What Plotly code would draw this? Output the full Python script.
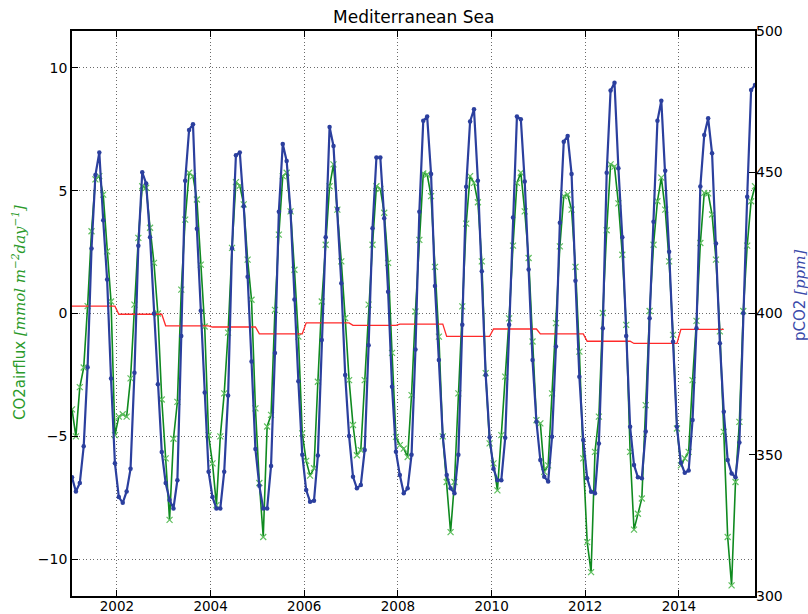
import plotly.graph_objects as go

# ---- data (monthly, Jan 2001 .. Aug 2015) ----
years = list(range(2001, 2016))

co2_airflux = {
    2001: [-3.9, -5.0, -3.0, -2.2, 0.3, 3.35, 5.46, 5.59, 4.84, 2.53, 0.49, -4.95],
    2002: [-4.2, -4.1, -4.2, -2.64, 0.36, 3.08, 5.18, 5.12, 3.49, 2.06, 0.0, -3.5],
    2003: [-5.9, -8.4, -5.1, -3.6, 0.97, 3.82, 5.73, 5.59, 4.64, 1.99, -0.53, -4.95],
    2004: [-6.1, -7.8, -5.0, -3.25, -0.78, 2.67, 5.35, 5.2, 4.44, 2.19, 0.56, -3.86],
    2005: [-6.9, -9.1, -4.6, -4.13, 0.15, 3.21, 5.59, 5.73, 4.16, 1.78, -0.94, -4.88],
    2006: [-6.0, -6.6, -6.3, -2.78, 0.49, 2.8, 5.18, 6.07, 4.23, 2.12, -0.19, -2.71],
    2007: [-4.54, -5.77, -5.56, -2.71, 0.36, 2.8, 5.18, 5.07, 4.1, 2.06, -1.6, -5.02],
    2008: [-5.36, -5.5, -5.84, -3.32, 0.08, 3.0, 5.7, 5.66, 4.78, 1.9, -0.94, -5.0],
    2009: [-6.86, -8.9, -6.86, -3.25, 0.29, 3.66, 5.59, 5.32, 4.53, 2.12, -2.43, -5.29],
    2010: [-6.1, -7.2, -4.95, -2.57, -0.2, 2.76, 5.32, 5.73, 4.16, 2.26, -1.14, -4.34],
    2011: [-4.47, -6.45, -6.18, -3.25, -0.39, 2.73, 4.78, 4.84, 4.23, 1.9, -1.55, -5.9],
    2012: [-9.31, -10.53, -5.63, -4.2, 0.02, 3.39, 6.07, 5.98, 4.48, 2.39, -0.46, -5.63],
    2013: [-8.8, -8.15, -7.53, -3.73, 0.1, 2.8, 4.57, 5.53, 4.23, 2.12, -0.87, -4.68],
    2014: [-6.18, -5.9, -5.63, -2.71, -0.3, 2.87, 4.91, 4.89, 4.03, 2.19, -0.73, -4.82],
    2015: [-9.1, -11.07, -6.86, -4.41, 0.1, 2.76, 4.57, 5.18],
}

pco2 = {
    2001: [342, 337, 340, 353, 381, 423, 449, 457, 433, 412, 377, 347],
    2002: [335, 333, 337, 345, 379, 424, 450, 446, 427, 400, 375, 351],
    2003: [340, 334, 331, 341, 392, 447, 465, 467, 430, 401, 372, 344],
    2004: [335, 331, 331, 344, 371, 423, 456, 457, 438, 413, 383, 352],
    2005: [339, 331, 331, 346, 386, 436, 460, 454, 436, 405, 376, 350],
    2006: [337.5, 333.4, 333.7, 349.7, 390.6, 427, 466, 459.3, 437, 410.7, 378.2, 356.6],
    2007: [342.2, 338.1, 339.3, 351.7, 388.8, 430.2, 455.2, 455.2, 433.7, 407.7, 374.1, 351.1],
    2008: [342.8, 336.4, 338.1, 350, 387.3, 436, 468.2, 469.7, 449.4, 409.7, 383.5, 356.6],
    2009: [342.8, 338.1, 336.4, 350, 396, 444.9, 468, 472.3, 447, 415, 378.2, 356.2],
    2010: [345, 341, 341, 356, 396, 434, 469.7, 468.8, 446.7, 415.6, 383.5, 361.7],
    2011: [348.1, 342.2, 340.5, 356.4, 388.3, 432.1, 460.8, 462.8, 449.4, 411.6, 377.6, 355.2],
    2012: [341.7, 336.9, 336.4, 354, 394.8, 449.8, 478.9, 481.7, 451.4, 427, 392, 359.9],
    2013: [346.4, 342, 341.7, 358.2, 398.3, 432.5, 468.2, 475.3, 450.5, 421.9, 390, 359.9],
    2014: [347.2, 343.6, 344.4, 362.3, 394.8, 445, 463.2, 469.1, 456.7, 424.8, 389.5, 365.2],
    2015: [348.1, 343.4, 342, 354.3, 400.1, 441.3, 479.1, 480.9],
}

# annual mean CO2 airflux (red step line), 2001..2014
annual_years = list(range(2001, 2015))
annual_mean_flux = [0.3, -0.03, -0.5, -0.55, -0.83, -0.38, -0.48, -0.43,
                    -0.93, -0.63, -0.83, -1.13, -1.22, -0.65]

tick_years = [2002, 2004, 2006, 2008, 2010, 2012, 2014]
tick_labels = ["2002", "2004", "2006", "2008", "2010", "2012", "2014"]

# ---- build monthly time axis (mid-month decimal years) ----
t, flux, pc = [], [], []
for y in years:
    for m, (f, p) in enumerate(zip(co2_airflux[y], pco2[y])):
        t.append(y + (m + 0.5) / 12.0)
        flux.append(f)
        pc.append(p)

t_red, red = [], []
for y, v in zip(annual_years, annual_mean_flux):
    for m in range(12):
        t_red.append(y + (m + 0.5) / 12.0)
        red.append(v)

GREEN = "#0f8a1f"
BLUE = "#2b3f9e"
RED = "#ff2a2a"

fig = go.Figure()
fig.add_trace(go.Scatter(
    x=t, y=flux, mode="lines+markers", name="CO2airflux",
    line=dict(color=GREEN, width=1.6),
    marker=dict(symbol="x-thin", size=6, line=dict(color="#5fbf5f", width=1.2)),
    yaxis="y"))
fig.add_trace(go.Scatter(
    x=t_red, y=red, mode="lines", name="annual mean",
    line=dict(color=RED, width=1.3), yaxis="y"))
fig.add_trace(go.Scatter(
    x=t, y=pc, mode="lines+markers", name="pCO2",
    line=dict(color=BLUE, width=2.2),
    marker=dict(symbol="circle", size=4.5, color=BLUE),
    yaxis="y2"))

font_fam = "DejaVu Sans, sans-serif"
GRID = dict(showgrid=True, gridcolor="#6a6a6a", griddash="1px,2.5px", gridwidth=1)
fig.update_layout(
    width=808, height=614,
    margin=dict(l=72, r=53, t=31, b=18, autoexpand=False),
    paper_bgcolor="white", plot_bgcolor="white",
    showlegend=False,
    font=dict(family=font_fam, size=14, color="black"),
    title=dict(text="Mediterranean Sea", x=0.512, xanchor="center",
               y=1 - 17 / 614, yanchor="middle", yref="container",
               font=dict(size=17, family=font_fam, color="black")),
    xaxis=dict(range=[2001 + 0.5 / 12, 2015 + 7.5 / 12], automargin=False,
               tickvals=tick_years, ticktext=tick_labels,
               ticks="inside", ticklen=6, tickcolor="black",
               ticklabelstandoff=-3,
               showline=True, linecolor="black", linewidth=1.6, mirror="ticks",
               zeroline=False, tickfont=dict(size=13.5), **GRID),
    yaxis=dict(range=[-11.5, 11.5], tickvals=[-10, -5, 0, 5, 10], automargin=False,
               ticks="inside", ticklen=6, tickcolor="black",
               showline=True, linecolor="black", linewidth=1.6, mirror=True,
               zeroline=False, tickfont=dict(size=14), **GRID),
    yaxis2=dict(range=[300, 500], tickvals=[300, 350, 400, 450, 500],
                overlaying="y", side="right", automargin=False,
                ticks="inside", ticklen=6, tickcolor="black",
                showline=False, showgrid=False, zeroline=False,
                tickfont=dict(size=14)),
)

fig.add_annotation(
    text='CO2airflux <span style="font-family:DejaVu Serif;font-style:italic">'
         '[mmol m<sup>−2</sup>day<sup>−1</sup>]</span>',
    xref="paper", yref="paper", x=(19 - 72) / 683, y=(596 - 313) / 565,
    textangle=-90, showarrow=False, xanchor="center", yanchor="middle",
    font=dict(color="#2a9a2a", size=15, family=font_fam))
fig.add_annotation(
    text='pCO2 <span style="font-family:DejaVu Serif;font-style:italic">[ppm]</span>',
    xref="paper", yref="paper", x=(800 - 72) / 683, y=(596 - 296) / 565,
    textangle=-90, showarrow=False, xanchor="center", yanchor="middle",
    font=dict(color="#3a4aaa", size=15, family=font_fam))

fig.write_html("out.html",
               config={"displayModeBar": False},
               post_script="document.body.style.margin='0px';"
                           "document.body.style.overflow='hidden';")
